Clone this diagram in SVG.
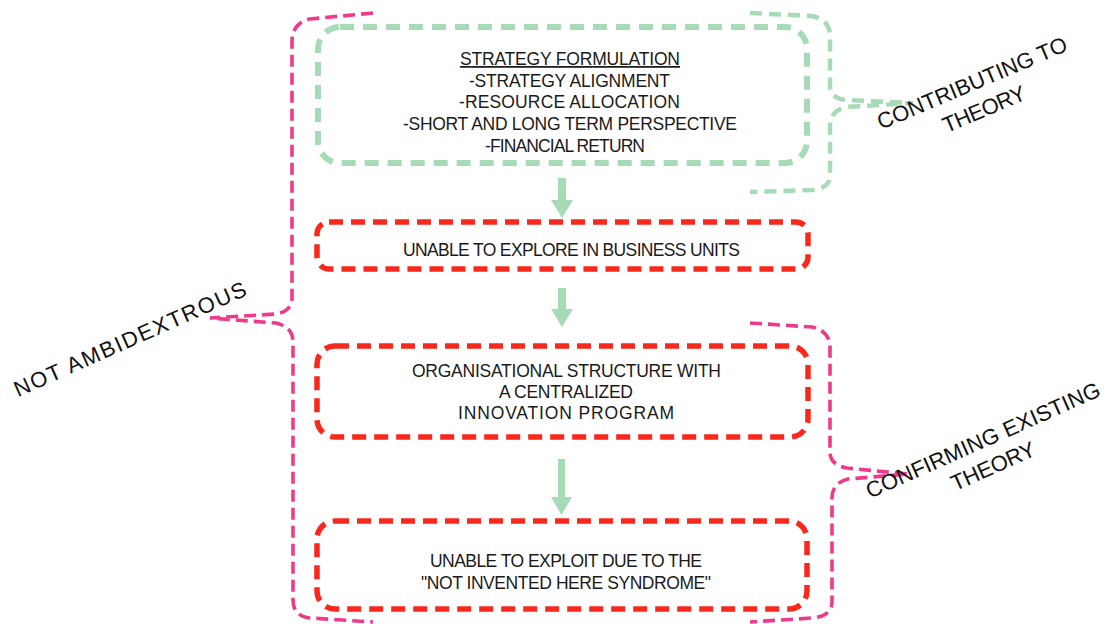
<svg xmlns="http://www.w3.org/2000/svg" width="1109" height="624" viewBox="0 0 1109 624">
<style>
.t{font-family:"Liberation Sans","DejaVu Sans",sans-serif;fill:#1a1a1a;font-size:17.5px;text-anchor:middle}
.lab{font-family:"Liberation Sans","DejaVu Sans",sans-serif;fill:#111;font-size:22px;text-anchor:middle}
.gbox{fill:none;stroke:#a6dbb6;stroke-width:6;stroke-dasharray:14 9}
.rbox{fill:none;stroke:#f8291c;stroke-width:5.5;stroke-dasharray:14 8}
.gbr{fill:none;stroke:#a6dbb6;stroke-width:4.5;stroke-dasharray:12 7}
.pbr{fill:none;stroke:#ef3a8c;stroke-width:3.6;stroke-dasharray:12 6}
.arr{fill:#a6dbb6}
</style>
<rect width="1109" height="624" fill="#ffffff"/>
<g id="braces">
<path class="pbr" d="M373,13 L310,19 Q292,23 292,42 L292,298 Q292,311 276,314 L210,318 L276,323 Q293,327 293,342 L293,600 Q293,616 310,618 L373,622"/>
<path class="gbr" d="M750,13 L812,16 Q830,20 830,36 L830,86 Q830,98 846,100 L913,103 L846,107 Q830,111 830,126 L830,176 Q830,188 812,190 L750,192"/>
<path class="pbr" d="M750,323 L812,327 Q830,331 830,348 L830,452 Q830,465 847,468 L908,474 L848,479 Q832,483 832,498 L832,602 Q832,616 812,618 L750,622"/>
</g>
<g id="connectors">
<path class="arr" d="M558,178 L566,178 L566,200 L573,200 L562,218 L551,200 L558,200 Z"/>
<path class="arr" d="M558,288 L566,288 L566,309 L573,309 L562,327 L551,309 L558,309 Z"/>
<path class="arr" d="M558,459 L565,459 L565,497 L572,497 L561.5,515 L551,497 L558,497 Z"/>
</g>
<g id="node-strategy">
<rect class="gbox" x="318" y="27" width="489" height="136" rx="22"/>
<text class="t" x="570" y="65" textLength="220" text-decoration="underline">STRATEGY FORMULATION</text>
<text class="t" x="569.5" y="87" textLength="201">-STRATEGY ALIGNMENT</text>
<text class="t" x="569.5" y="108" textLength="221">-RESOURCE ALLOCATION</text>
<text class="t" x="570" y="130" textLength="334">-SHORT AND LONG TERM PERSPECTIVE</text>
<text class="t" x="565" y="152" textLength="160">-FINANCIAL RETURN</text>
</g>
<g id="node-explore">
<rect class="rbox" x="317" y="222" width="491" height="47" rx="12"/>
<text class="t" x="571.5" y="256" textLength="337">UNABLE TO EXPLORE IN BUSINESS UNITS</text>
</g>
<g id="node-structure">
<rect class="rbox" x="317" y="346" width="491" height="91" rx="18"/>
<text class="t" x="566.5" y="377" textLength="309">ORGANISATIONAL STRUCTURE WITH</text>
<text class="t" x="566" y="398" textLength="134">A CENTRALIZED</text>
<text class="t" x="566" y="419" textLength="216">INNOVATION PROGRAM</text>
</g>
<g id="node-exploit">
<rect class="rbox" x="317" y="521" width="490" height="88" rx="18"/>
<text class="t" x="566" y="567" textLength="272">UNABLE TO EXPLOIT DUE TO THE</text>
<text class="t" x="566" y="589" textLength="290">"NOT INVENTED HERE SYNDROME"</text>
</g>
<g id="label-not-ambidextrous">
<text class="lab" transform="translate(133,346) rotate(-24)" textLength="252">NOT AMBIDEXTROUS</text>
</g>
<g id="label-contributing">
<text class="lab" transform="translate(975,90) rotate(-23)" textLength="204">CONTRIBUTING TO</text>
<text class="lab" transform="translate(987,116) rotate(-23)" textLength="88">THEORY</text>
</g>
<g id="label-confirming">
<text class="lab" transform="translate(986,447) rotate(-24)" textLength="254">CONFIRMING EXISTING</text>
<text class="lab" transform="translate(996,473) rotate(-24)" textLength="90">THEORY</text>
</g>
</svg>
